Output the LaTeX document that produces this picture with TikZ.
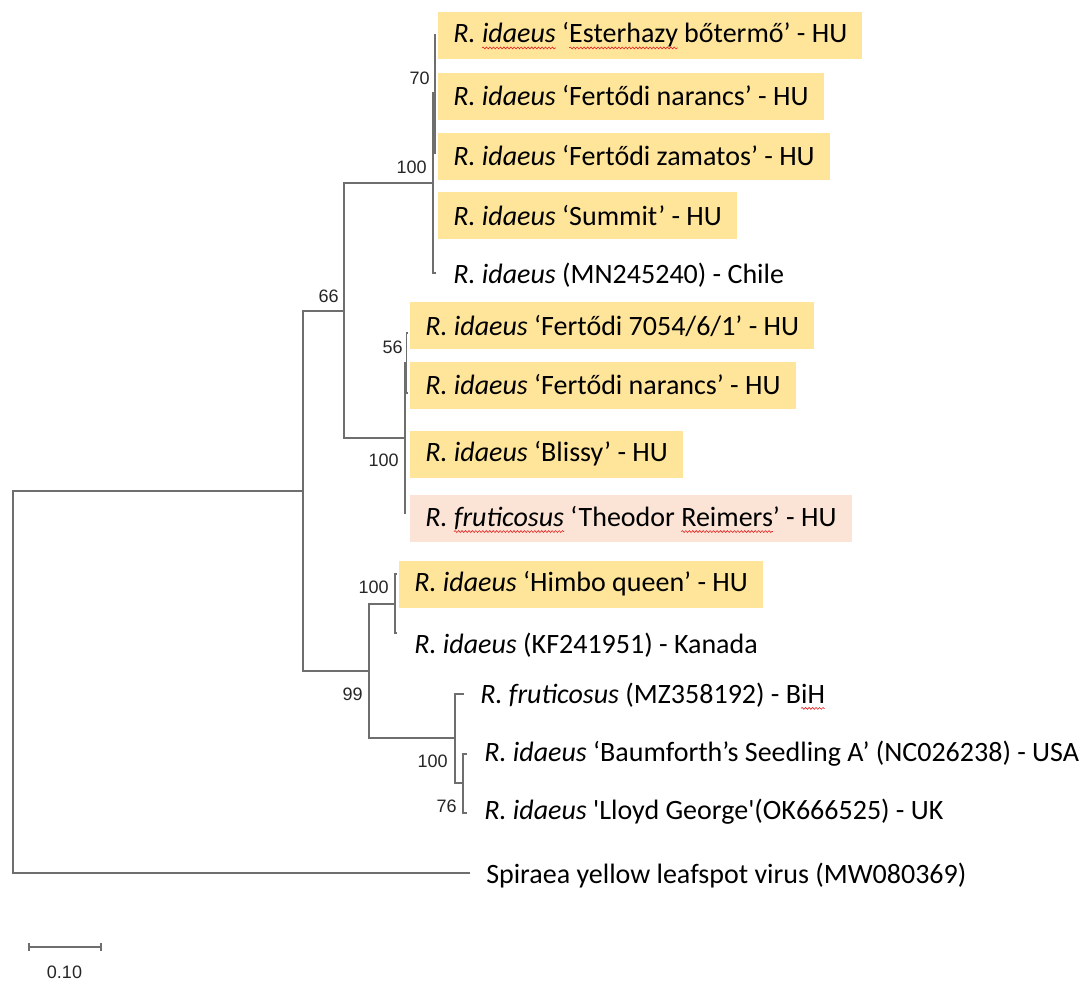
\documentclass[tikz,border=0pt]{standalone}
\usepackage{fontspec}
\setmainfont{Carlito}
\newfontfamily\bootfont{Liberation Sans}
\usetikzlibrary{positioning, decorations.pathmorphing}

\definecolor{hugold}{HTML}{FFE599}
\definecolor{hupeach}{HTML}{FBE4D5}
\definecolor{treegray}{HTML}{6E6E6E}
\definecolor{wavered}{HTML}{E02020}

% red spell-check wave under a word
\newsavebox{\wavebox}
\newcommand{\spellwave}[1]{\sbox{\wavebox}{#1}\rlap{\tikz[overlay, x=1pt, y=1pt]
    \draw[wavered, line width=0.45pt, decorate, decoration={snake, amplitude=0.7pt, segment length=2.6pt}]
    (0,-3.8) -- (\the\wd\wavebox,-3.8);}\usebox{\wavebox}}
\newcommand{\taxon}[1]{\textit{#1}}

\begin{document}
\begin{tikzpicture}[x=0.75pt, y=-0.75pt,
    branch/.style={draw=treegray, line width=0.8pt},
    leaf/.style={anchor=west, inner xsep=0pt, inner ysep=0pt, font=\fontsize{21}{25}\selectfont},
    hulabel/.style={leaf, fill=hugold, inner xsep=11.25pt, minimum height=35.25pt},
    frlabel/.style={hulabel, fill=hupeach},
    boot/.style={anchor=east, inner sep=0pt, text=black!85, font=\bootfont\fontsize{13.5}{16}\selectfont}
]
    \useasboundingbox (0,0) rectangle (1087,982);

    % Internal nodes
    \coordinate (root) at (13, 682);
    \coordinate (nA) at (303, 491);
    \coordinate (nB) at (344, 311);
    \coordinate (nC) at (433, 183);
    \coordinate (nE) at (435, 93);
    \coordinate (nD) at (405, 438);
    \coordinate (nF) at (406.5, 363);
    \coordinate (nG) at (369, 671);
    \coordinate (nH) at (395, 604);
    \coordinate (nI) at (455, 738);
    \coordinate (nJ) at (463, 783);

    % Tips
    \coordinate (tEster) at (436, 35);
    \coordinate (tNar1) at (436, 96);
    \coordinate (tZam) at (436, 153);
    \coordinate (tSummit) at (434, 213);
    \coordinate (tChile) at (436, 273);
    \coordinate (t7054) at (407, 333);
    \coordinate (tNar2) at (408, 393);
    \coordinate (tBlissy) at (405, 453);
    \coordinate (tTheo) at (406, 513);
    \coordinate (tHimbo) at (397, 574);
    \coordinate (tKan) at (397, 633);
    \coordinate (tBih) at (464, 694);
    \coordinate (tBaum) at (467, 754);
    \coordinate (tLloyd) at (467, 813);
    \coordinate (tOut) at (470, 873);

    % Branches
    \draw[branch] (root) |- (nA);
    \draw[branch] (root) |- (tOut);
    \draw[branch] (nA) |- (nB);
    \draw[branch] (nA) |- (nG);
    \draw[branch] (nB) |- (nC);
    \draw[branch] (nB) |- (nD);
    \draw[branch] (nC) |- (nE);
    \draw[branch] (nC) |- (tSummit);
    \draw[branch] (nC) |- (tChile);
    \draw[branch] (nE) |- (tEster);
    \draw[branch] (nE) |- (tNar1);
    \draw[branch] (nE) |- (tZam);
    \draw[branch] (nD) |- (nF);
    \draw[branch] (nD) |- (tBlissy);
    \draw[branch] (nD) |- (tTheo);
    \draw[branch] (nF) |- (t7054);
    \draw[branch] (nF) |- (tNar2);
    \draw[branch] (nG) |- (nH);
    \draw[branch] (nG) |- (nI);
    \draw[branch] (nH) |- (tHimbo);
    \draw[branch] (nH) |- (tKan);
    \draw[branch] (nI) |- (tBih);
    \draw[branch] (nI) |- (nJ);
    \draw[branch] (nJ) |- (tBaum);
    \draw[branch] (nJ) |- (tLloyd);

    % Bootstrap values
    \node[boot] (bs70) at (430, 78) {70};
    \node[boot] (bsC) at (427, 167) {100};
    \node[boot] (bs66) at (339, 296) {66};
    \node[boot] (bs56) at (403, 347) {56};
    \node[boot] (bsD) at (399, 460) {100};
    \node[boot] (bsH) at (389, 587) {100};
    \node[boot] (bs99) at (363, 694) {99};
    \node[boot] (bsI) at (448, 761) {100};
    \node[boot] (bs76) at (457, 806) {76};

    % Tip labels
    \node[hulabel] (lEster) at (438, 35) {\taxon{R. \spellwave{idaeus}} ‘\spellwave{Esterhazy} bőtermő’ - HU};
    \node[hulabel] (lNar1) at (438, 96) {\taxon{R. idaeus} ‘Fertődi narancs’ - HU};
    \node[hulabel] (lZam) at (438, 156) {\taxon{R. idaeus} ‘Fertődi zamatos’ - HU};
    \node[hulabel] (lSummit) at (438, 215.5) {\taxon{R. idaeus} ‘Summit’ - HU};
    \node[leaf] (lChile) at (453, 275) {\taxon{R. idaeus} (MN245240) - Chile};
    \node[hulabel] (l7054) at (410, 325.5) {\taxon{R. idaeus} ‘Fertődi 7054/6/1’ - HU};
    \node[hulabel] (lNar2) at (410, 385) {\taxon{R. idaeus} ‘Fertődi narancs’ - HU};
    \node[hulabel] (lBlissy) at (410, 454) {\taxon{R. idaeus} ‘Blissy’ - HU};
    \node[frlabel] (lTheo) at (410, 518) {\taxon{R. \spellwave{fruticosus}} ‘Theodor \spellwave{Reimers}’ - HU};
    \node[hulabel] (lHimbo) at (399, 584) {\taxon{R. idaeus} ‘Himbo queen’ - HU};
    \node[leaf] (lKan) at (414, 645) {\taxon{R. idaeus} (KF241951) - Kanada};
    \node[leaf] (lBih) at (480, 695) {\taxon{R. fruticosus} (MZ358192) - B\spellwave{iH}};
    \node[leaf] (lBaum) at (484, 754) {\taxon{R. idaeus} ‘Baumforth’s Seedling A’ (NC026238) - USA};
    \node[leaf] (lLloyd) at (484, 812) {\taxon{R. idaeus} \textquotesingle Lloyd George\textquotesingle(OK666525) - UK};
    \node[leaf] (lOut) at (486, 875) {Spiraea yellow leafspot virus (MW080369)};

    % Scale bar
    \coordinate (sbL) at (29, 947);
    \coordinate (sbR) at (101, 947);
    \draw[branch] (sbL) -- (sbR);
    \draw[branch] ([yshift=3pt]sbL) -- ([yshift=-3pt]sbL);
    \draw[branch] ([yshift=3pt]sbR) -- ([yshift=-3pt]sbR);
    \node[boot, anchor=center] (sbText) at (64.5, 972) {0.10};
\end{tikzpicture}
\end{document}
